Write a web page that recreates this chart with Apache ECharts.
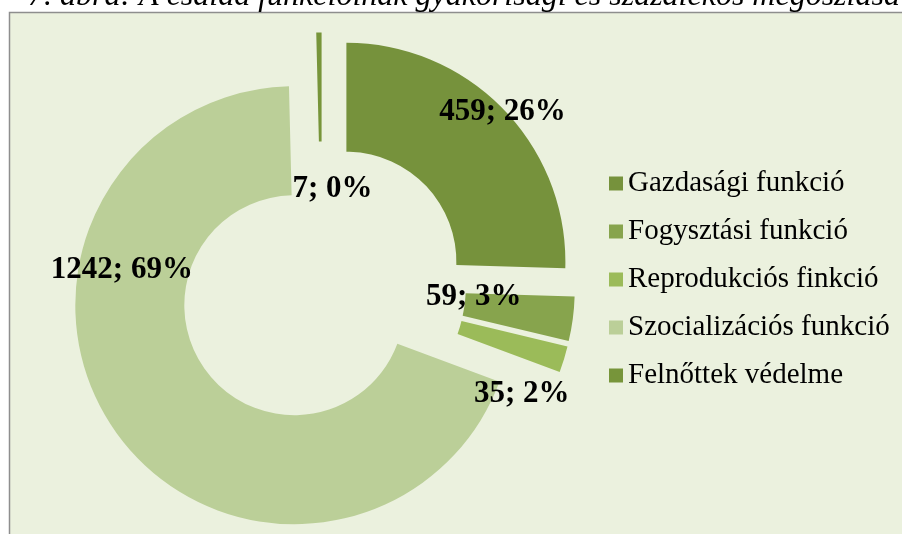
<!DOCTYPE html>
<html>
<head>
<meta charset="utf-8">
<title>A család funkcióinak megoszlása</title>
<script src="https://cdn.jsdelivr.net/npm/echarts@6/dist/echarts.min.js"></script>
<style>
  html, body { margin: 0; padding: 0; background: #fff; }
  #main { width: 902px; height: 534px; }
</style>
</head>
<body>
<div id="main"></div>
<script>
var chartTitle = "7. ábra: A család funkcióinak gyakorisági és százalékos megoszlása";
var categories = ["Gazdasági funkció", "Fogysztási funkció", "Reprodukciós finkció", "Szocializációs funkció", "Felnőttek védelme"];
var counts = [459, 59, 35, 1242, 7];

var sliceColors = ["#76923c", "#87a44d", "#9bbb59", "#bbcf98", "#77953a"];
// nudges of each label away from its default 'inside' spot (px)
var labelShift = [[36, -33], [-48, -15], [7, 50], [-36, -132], [13, 105]];

var chart = echarts.init(document.getElementById("main"));

var pieData = categories.map(function (name, i) {
  return {
    name: name,
    value: counts[i],
    selected: true,
    itemStyle: { color: sliceColors[i] }
  };
});

chart.setOption({
  backgroundColor: "#ffffff",
  animation: false,
  title: {
    text: chartTitle,
    left: 28,
    top: -19,
    padding: 0,
    textStyle: {
      fontFamily: "Liberation Serif",
      fontStyle: "italic",
      fontWeight: "normal",
      fontSize: 32,
      color: "#000"
    }
  },
  graphic: [
    {
      type: "rect",
      z: -10,
      silent: true,
      shape: { x: 9.5, y: 12.5, width: 1000, height: 1000 },
      style: { fill: "#ebf1de", stroke: "#8e8e8e", lineWidth: 1.5 }
    }
  ],
  legend: {
    orient: "vertical",
    left: 604,
    top: 164,
    itemWidth: 14,
    itemHeight: 14,
    itemGap: 19,
    icon: "rect",
    selectedMode: false,
    data: categories,
    textStyle: {
      fontFamily: "Liberation Serif",
      fontSize: 29,
      lineHeight: 28,
      color: "#000"
    }
  },
  series: [
    {
      type: "pie",
      center: [322, 285.5],
      radius: [110, 219],
      startAngle: 90,
      clockwise: true,
      selectedMode: "multiple",
      selectedOffset: 34,
      percentPrecision: 0,
      avoidLabelOverlap: false,
      emphasis: { disabled: true },
      label: {
        show: true,
        position: "inside",
        formatter: "{c}; {d}%",
        fontFamily: "Liberation Serif",
        fontWeight: "bold",
        fontSize: 31,
        color: "#000"
      },
      labelLine: { show: false },
      labelLayout: function (p) {
        var s = labelShift[p.dataIndex];
        return { dx: s[0], dy: s[1] };
      },
      data: pieData
    }
  ]
});
</script>
</body>
</html>
